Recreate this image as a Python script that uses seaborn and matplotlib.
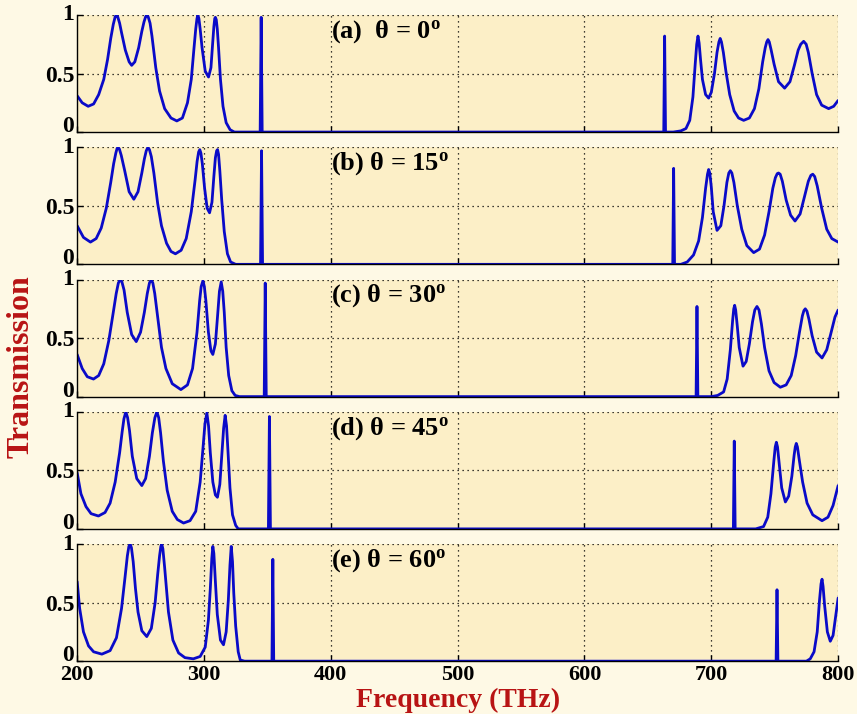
import numpy as np
import pandas as pd
import matplotlib
matplotlib.use("Agg")
import matplotlib.pyplot as plt
import seaborn as sns

# ---------------- data: (frequency THz, transmission) ----------------
panel_labels = ["(a)  θ = 0", "(b) θ = 15", "(c) θ = 30", "(d) θ = 45", "(e) θ = 60"]

pts_a = [(200, 0.31), (204, 0.25), (208.7, 0.22), (213, 0.24), (217, 0.32), (221, 0.45), (224, 0.62),
         (226.5, 0.8), (228.5, 0.92), (230, 0.985), (231, 1.0), (232, 0.985), (233.5, 0.93), (235, 0.85),
         (238, 0.70), (241, 0.60), (243, 0.57), (245.5, 0.60), (248.5, 0.72), (251, 0.86), (252.7, 0.94),
         (254, 0.985), (255, 1.0), (256, 0.985), (257.5, 0.93), (259, 0.82), (262, 0.55), (265, 0.35),
         (269, 0.20), (274, 0.12), (278.6, 0.095), (283, 0.12), (287, 0.25), (290, 0.45), (292, 0.70),
         (293.5, 0.88), (294.5, 0.97), (295.2, 1.0), (296, 0.97), (297, 0.88), (298.5, 0.72), (301, 0.52),
         (303.6, 0.47), (305.5, 0.55), (306.8, 0.75), (307.8, 0.9), (308.5, 0.97), (309, 0.98), (309.7, 0.96),
         (310.5, 0.88), (311.5, 0.72), (313, 0.45), (315, 0.22), (317.5, 0.08), (320.6, 0.02), (324, 0.0),
         (344.3, 0), (345.1, 0.98), (345.9, 0), (662.5, 0), (663.2, 0.82), (663.9, 0), (670, 0),
         (676, 0.01), (680, 0.03), (683, 0.10), (685.5, 0.30), (687.3, 0.58), (688.5, 0.75), (689.5, 0.82),
         (690.4, 0.76), (691.5, 0.62), (693, 0.45), (695.5, 0.32), (697.9, 0.29), (700, 0.34), (702.5, 0.50),
         (704.5, 0.68), (706, 0.77), (707, 0.80), (708, 0.77), (709.5, 0.68), (711.5, 0.52), (714.5, 0.32),
         (718, 0.18), (721.5, 0.12), (725.5, 0.10), (730, 0.12), (734, 0.20), (737.5, 0.37), (740.5, 0.60),
         (742.5, 0.72), (743.7, 0.77), (744.7, 0.79), (745.7, 0.77), (747.2, 0.70), (749.5, 0.58),
         (753, 0.43), (757.8, 0.375), (762, 0.43), (765.5, 0.57), (768.5, 0.70), (770.5, 0.75),
         (772.8, 0.775), (774.8, 0.75), (776.5, 0.68), (779.5, 0.50), (783, 0.32), (787, 0.23),
         (792.5, 0.20), (796.5, 0.22), (800, 0.27)]

pts_b = [(200, 0.33), (205, 0.23), (210.5, 0.19), (215, 0.22), (219, 0.31), (223, 0.48), (226.5, 0.70),
         (228.8, 0.86), (230.5, 0.95), (231.5, 0.99), (232.3, 1.0), (233.3, 0.985), (234.8, 0.93),
         (237.5, 0.80), (241, 0.62), (244.7, 0.556), (248, 0.62), (251, 0.78), (253, 0.90), (254.5, 0.97),
         (255.8, 1.0), (257, 0.98), (258.5, 0.92), (260.5, 0.78), (263.5, 0.52), (266.5, 0.33), (270.5, 0.18),
         (274, 0.11), (277.5, 0.09), (282, 0.12), (286, 0.22), (290, 0.45), (293, 0.72), (294.6, 0.88),
         (295.8, 0.96), (296.7, 0.98), (297.6, 0.95), (298.7, 0.86), (300.5, 0.65), (302.5, 0.48),
         (304.4, 0.44), (306.3, 0.53), (307.8, 0.75), (309, 0.91), (310, 0.97), (310.7, 0.98), (311.5, 0.94),
         (312.5, 0.80), (314, 0.55), (316, 0.28), (318.5, 0.09), (321, 0.02), (325, 0), (344.6, 0),
         (345.4, 0.97), (346.2, 0), (669.6, 0), (670.3, 0.82), (671, 0), (676, 0), (681, 0.02), (686, 0.08),
         (690, 0.20), (693, 0.40), (695.5, 0.65), (697, 0.77), (697.9, 0.81), (698.8, 0.78), (700, 0.66),
         (701.5, 0.45), (704.5, 0.29), (707.5, 0.33), (710, 0.50), (712.3, 0.70), (713.8, 0.78), (715, 0.80),
         (716.2, 0.78), (717.8, 0.70), (720.5, 0.50), (724, 0.30), (728, 0.16), (733.4, 0.10), (738, 0.13),
         (742, 0.25), (745.5, 0.45), (748.5, 0.65), (750.5, 0.74), (752, 0.775), (753, 0.78), (754.3, 0.77),
         (756, 0.71), (759, 0.55), (762.5, 0.42), (766, 0.37), (770, 0.43), (773.5, 0.58), (776.5, 0.71),
         (778.5, 0.76), (780, 0.77), (781.5, 0.75), (783.5, 0.67), (787, 0.48), (791, 0.30), (795, 0.22),
         (800, 0.19)]

pts_c = [(200, 0.36), (204, 0.24), (208, 0.17), (212.9, 0.15), (217, 0.18), (221, 0.28), (225, 0.48),
         (228.5, 0.72), (230.8, 0.88), (232.5, 0.97), (234, 1.0), (235.3, 0.98), (237, 0.91), (239.5, 0.72),
         (243, 0.53), (246.6, 0.47), (250, 0.55), (253, 0.72), (255.3, 0.88), (257, 0.97), (258.4, 1.0),
         (259.7, 0.97), (261.2, 0.88), (263.5, 0.68), (266.5, 0.42), (270, 0.24), (275, 0.11), (281.8, 0.06),
         (287, 0.10), (291, 0.24), (294.5, 0.55), (296.6, 0.82), (297.8, 0.94), (299.2, 0.99), (300.3, 0.94),
         (301.5, 0.82), (303.5, 0.55), (305.5, 0.39), (307, 0.36), (309, 0.45), (310.8, 0.70), (312.2, 0.90),
         (313.6, 0.98), (314.8, 0.90), (316, 0.72), (317.5, 0.42), (319.5, 0.18), (322, 0.05), (324.6, 0.01),
         (328, 0), (347.5, 0), (348.3, 0.97), (349.1, 0), (688, 0), (688.7, 0.77), (689.4, 0), (700, 0),
         (705, 0.01), (709.7, 0.04), (712.5, 0.15), (715, 0.40), (716.8, 0.65), (717.7, 0.75), (718.4, 0.78),
         (719.2, 0.74), (720.5, 0.60), (722, 0.42), (725, 0.26), (727.5, 0.30), (730, 0.45), (732.5, 0.64),
         (734.3, 0.74), (736, 0.77), (737.6, 0.74), (739.5, 0.62), (742, 0.42), (745.5, 0.22), (749.5, 0.12),
         (754.4, 0.08), (759, 0.10), (763, 0.18), (766.5, 0.35), (769.5, 0.55), (771.8, 0.69), (773, 0.735),
         (774.1, 0.75), (775.4, 0.73), (777, 0.66), (779.5, 0.52), (783, 0.38), (787.3, 0.33), (791, 0.40),
         (794.5, 0.55), (797.5, 0.68), (800, 0.74)]

pts_d = [(200, 0.48), (203, 0.30), (207, 0.19), (211, 0.13), (216.8, 0.11), (222, 0.14), (226, 0.22),
         (230, 0.40), (233.5, 0.65), (235.5, 0.83), (236.9, 0.94), (238.4, 1.0), (239.8, 0.95), (241.3, 0.84),
         (243.5, 0.62), (247, 0.43), (251, 0.37), (254, 0.43), (257, 0.62), (259.3, 0.82), (261.3, 0.95),
         (262.9, 1.0), (264.3, 0.95), (265.8, 0.82), (268, 0.58), (271, 0.33), (275, 0.15), (279, 0.08),
         (283.9, 0.05), (289, 0.07), (293.5, 0.15), (297, 0.40), (299.3, 0.70), (300.8, 0.90), (302.3, 0.99),
         (303.6, 0.88), (305, 0.65), (307, 0.40), (309, 0.29), (310.6, 0.27), (312.5, 0.38), (314, 0.62),
         (315.5, 0.86), (316.7, 0.97), (317.8, 0.88), (319, 0.65), (320.5, 0.35), (322.5, 0.12), (325, 0.03),
         (327, 0), (350.8, 0), (351.6, 0.96), (352.4, 0), (717.4, 0), (718.1, 0.75), (718.8, 0), (735, 0),
         (741.2, 0.02), (744.5, 0.10), (747, 0.30), (749.3, 0.58), (750.4, 0.70), (751.3, 0.74), (752.2, 0.70),
         (753.5, 0.56), (755.5, 0.35), (758.4, 0.23), (761, 0.28), (763.5, 0.45), (765.3, 0.63), (766.2, 0.70),
         (767, 0.73), (767.9, 0.70), (769.2, 0.60), (772, 0.40), (775.5, 0.22), (780, 0.12), (787.3, 0.07),
         (792, 0.10), (796, 0.20), (800, 0.37)]

pts_e = [(200, 0.68), (202, 0.45), (205, 0.25), (209, 0.13), (213, 0.08), (219.5, 0.06), (226, 0.09),
         (231, 0.20), (235, 0.45), (237.8, 0.72), (239.6, 0.90), (240.8, 0.98), (241.8, 1.0), (242.8, 0.97),
         (244.2, 0.85), (246, 0.62), (248, 0.42), (251, 0.26), (254.9, 0.21), (258.5, 0.28), (261.5, 0.50),
         (263.5, 0.74), (265, 0.90), (266, 0.98), (266.7, 1.0), (267.6, 0.96), (269, 0.80), (272, 0.42),
         (275.5, 0.18), (280, 0.07), (285, 0.03), (291.6, 0.02), (297, 0.04), (301, 0.12), (303.5, 0.35),
         (305, 0.62), (306.2, 0.88), (307, 0.98), (307.8, 0.92), (309, 0.68), (310.5, 0.40), (313, 0.18),
         (315.4, 0.14), (317.5, 0.25), (319.2, 0.52), (320.5, 0.82), (321.5, 0.98), (322.5, 0.85),
         (323.5, 0.58), (325, 0.30), (327, 0.08), (328.6, 0.01), (332, 0), (353.6, 0), (354.3, 0.87),
         (355, 0), (751.1, 0), (751.8, 0.61), (752.5, 0), (775, 0), (778, 0.02), (781, 0.08), (783.5, 0.25),
         (785.3, 0.52), (786.5, 0.66), (787.3, 0.70), (788.1, 0.64), (789.3, 0.48), (791.5, 0.25),
         (793.8, 0.17), (796, 0.22), (798, 0.38), (800, 0.54)]

panels = [pts_a, pts_b, pts_c, pts_d, pts_e]

x_ticks = [200, 300, 400, 500, 600, 700, 800]
y_ticks = [0, 0.5, 1]
y_ticklabels = ["0", "0.5", "1"]

# ---------------- style ----------------
sns.set_theme(style="ticks")
plt.rcParams["font.family"] = ["Liberation Serif", "DejaVu Serif"]
plt.rcParams["font.weight"] = "bold"
plt.rcParams["mathtext.fontset"] = "custom"
plt.rcParams["mathtext.rm"] = "Liberation Serif:bold"
plt.rcParams["mathtext.bf"] = "Liberation Serif:bold"
plt.rcParams["mathtext.it"] = "Liberation Serif:bold:italic"

fig_bg = "#FEF9E5"
ax_bg = "#FCEFC7"
line_col = "#0A0AC8"
label_red = "#B81414"

fig, axes = plt.subplots(5, 1, figsize=(8.57, 7.14), dpi=100, sharex=True)
fig.patch.set_facecolor(fig_bg)
fig.subplots_adjust(left=0.090, right=0.978, top=0.979, bottom=0.074, hspace=0.13)

for i, ax in enumerate(axes):
    df = pd.DataFrame(panels[i], columns=["f", "T"])
    sns.lineplot(data=df, x="f", y="T", ax=ax, color=line_col, lw=2.0,
                 estimator=None, sort=False, legend=False)
    ax.set_facecolor(ax_bg)
    ax.set_xlim(200, 800)
    ax.set_ylim(0, 1)
    ax.set_xticks(x_ticks)
    ax.set_yticks(y_ticks)
    labels = ax.set_yticklabels(y_ticklabels, fontsize=17, fontweight="bold")
    labels[0].set_va("baseline")
    labels[2].set_va("center")
    ax.set_xlabel("")
    ax.set_ylabel("")
    for s in ["top", "right"]:
        ax.spines[s].set_visible(False)
    for s in ["left", "bottom"]:
        ax.spines[s].set_color("black")
        ax.spines[s].set_linewidth(1.0)
    ax.tick_params(direction="in", length=4, width=1, colors="black", pad=2)
    # MATLAB-like dotted grid (including the top and right edges)
    for xv in [300, 400, 500, 600, 700, 800]:
        ax.axvline(xv, color="black", ls=(0, (1, 3)), lw=0.9, zorder=0.5)
    for yv in [0.5, 1.0]:
        ax.axhline(yv, color="black", ls=(0, (1, 3)), lw=0.9, zorder=0.5)
    ax.text(400, 0.86, panel_labels[i] + r"$^{\mathrm{o}}$", fontsize=19, fontweight="bold",
            ha="left", va="center", color="black")
    if i < 4:
        ax.tick_params(labelbottom=False)
    else:
        ax.set_xticklabels([str(v) for v in x_ticks], fontsize=16, fontweight="bold")
        ax.tick_params(axis="x", pad=3)

fig.text(0.535, 0.010, "Frequency (THz)", color=label_red, fontsize=20, fontweight="bold",
         ha="center", va="baseline")
fig.text(0.024, 0.487, "Transmission", color=label_red, fontsize=23, fontweight="bold",
         ha="center", va="center", rotation=90)

fig.savefig("out.png", dpi=100, facecolor=fig_bg)
